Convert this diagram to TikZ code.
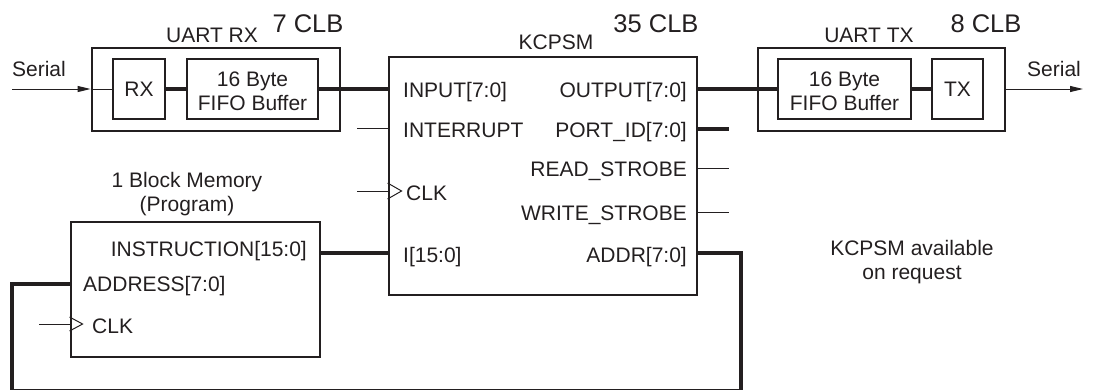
\documentclass[tikz,border=0pt]{standalone}
\usepackage{fontspec}
\setmainfont{Liberation Sans}
\usetikzlibrary{arrows.meta}
\definecolor{ink}{RGB}{35,31,32}
\begin{document}
\begin{tikzpicture}[x=1pt,y=-1pt,
  every node/.style={text=ink,font=\fontsize{21}{24}\selectfont},
  box/.style={draw=ink,line width=2.8pt,inner sep=0pt},
  lbl/.style={inner sep=0pt,text height=15pt,text depth=0pt},
  big/.style={inner sep=0pt,font=\fontsize{25.5}{30}\selectfont,text height=18.3pt,text depth=0pt},
  two/.style={inner sep=0pt,align=center,text height=39pt,text depth=0pt},
  fifo/.style={box,align=center,text height=43pt,text depth=0pt},
  pinl/.style={lbl,anchor=west},
  pinr/.style={lbl,anchor=east},
  bus/.style={draw=ink,line width=4pt},
  wire/.style={draw=ink,line width=1pt},
  clk/.style={draw=ink,line width=1pt,line join=miter},
  tip/.style={-{Triangle[length=13pt,width=6pt]}}
]
\useasboundingbox (0,0) rectangle (1094,389);

% ---------- UART RX ----------
\node[box,minimum width=248pt,minimum height=83pt] (rxo) at (216,89.5) {};
\node[box,minimum width=52pt,minimum height=60pt,lbl] (rx) at (139,89) {RX};
\node[fifo,minimum width=131pt,minimum height=60pt] (rxf) at (252.5,89) {16 Byte\\FIFO Buffer};
\node[lbl] (rxt) at (212,35) {UART RX};
\node[big] (rxclb) at (308,23) {7 CLB};
\node[lbl] (sinl) at (39,69) {Serial};

% ---------- KCPSM ----------
\node[box,minimum width=308pt,minimum height=238pt] (k) at (543,176) {};
\node[lbl] (kt) at (556,42) {KCPSM};
\node[big] (kclb) at (656,23) {35 CLB};
\node[pinl] (kin) at (403,90) {INPUT[7:0]};
\node[pinl] (kint) at (403,129.5) {INTERRUPT};
\node[pinl] (kclk) at (406,193) {CLK};
\node[pinl] (ki) at (403,255) {I[15:0]};
\node[pinr] (kout) at (687,89.5) {OUTPUT[7:0]};
\node[pinr] (kpid) at (687,129.5) {PORT\_ID[7:0]};
\node[pinr] (krs) at (687,169) {READ\_STROBE};
\node[pinr] (kws) at (687,213) {WRITE\_STROBE};
\node[pinr] (kaddr) at (687,254.5) {ADDR[7:0]};

% ---------- UART TX ----------
\node[box,minimum width=247pt,minimum height=83pt] (txo) at (881.5,89.5) {};
\node[fifo,minimum width=133pt,minimum height=60pt] (txf) at (844.5,89) {16 Byte\\FIFO Buffer};
\node[box,minimum width=51pt,minimum height=60pt,lbl] (tx) at (957.5,89) {TX};
\node[lbl] (txt) at (869,35) {UART TX};
\node[big] (txclb) at (986,23) {8 CLB};
\node[lbl] (soutl) at (1054,69) {Serial};

% ---------- Block memory ----------
\node[box,minimum width=249pt,minimum height=135pt] (mem) at (195.5,289.5) {};
\node[two] (memt) at (187,192) {1 Block Memory\\(Program)};
\node[pinr] (minstr) at (307,249) {INSTRUCTION[15:0]};
\node[pinl] (maddr) at (83,284) {ADDRESS[7:0]};
\node[pinl] (mclk) at (92,325.5) {CLK};

\node[two] (note) at (912,259.5) {KCPSM available\\on request};

% ---------- coordinates ----------
\coordinate (sin) at (12,89);
\coordinate (sout) at (1083,89);
\coordinate (yint) at (0,128);
\coordinate (yclk) at (0,191);
\coordinate (yi) at (0,253);
\coordinate (ypid) at (0,129);
\coordinate (yrs) at (0,168);
\coordinate (yws) at (0,212);
\coordinate (ymaddr) at (0,284);
\coordinate (ymclk) at (0,324);
\coordinate (intin) at (357,128);
\coordinate (clkin) at (357,191);
\coordinate (pidout) at (729,129);
\coordinate (rsout) at (729,168);
\coordinate (wsout) at (729,212);
\coordinate (mclkin) at (39,324);
\coordinate (fb1) at (741,253);
\coordinate (fb2) at (741,390.6);
\coordinate (fb3) at (12,390.6);
\coordinate (fb4) at (12,284);

% ---------- connectors ----------
\draw[wire,tip] (sin) -- (rxo.west |- sin);
\draw[wire] (rxo.west |- sin) -- (rx.west |- sin);
\draw[bus] (rx.east |- sin) -- (rxf.west |- sin);
\draw[bus] (rxf.east |- sin) -- (k.west |- sin);
\draw[bus] (k.east |- sin) -- (txf.west |- sin);
\draw[bus] (txf.east |- sin) -- (tx.west |- sin);
\draw[wire,tip] (txo.east |- sin) -- (sout);

\draw[wire] (intin) -- (k.west |- yint);
\draw[wire] (clkin) -- (k.west |- yclk);
\draw[bus] (mem.east |- yi) -- (k.west |- yi);
\draw[bus] (k.east |- ypid) -- (pidout);
\draw[wire] (k.east |- yrs) -- (rsout);
\draw[wire] (k.east |- yws) -- (wsout);
\draw[bus,line join=miter] (k.east |- yi) -- (fb1) -- (fb2) -- (fb3) -- (fb4) -- (mem.west |- ymaddr);
\draw[wire] (mclkin) -- (mem.west |- ymclk);

% clock triangles
\draw[clk] ([yshift=-8pt]k.west |- yclk) -- ([xshift=14pt]k.west |- yclk) -- ([yshift=8pt]k.west |- yclk);
\draw[clk] ([yshift=-7pt]mem.west |- ymclk) -- ([xshift=13pt]mem.west |- ymclk) -- ([yshift=7pt]mem.west |- ymclk);
\end{tikzpicture}
\end{document}
